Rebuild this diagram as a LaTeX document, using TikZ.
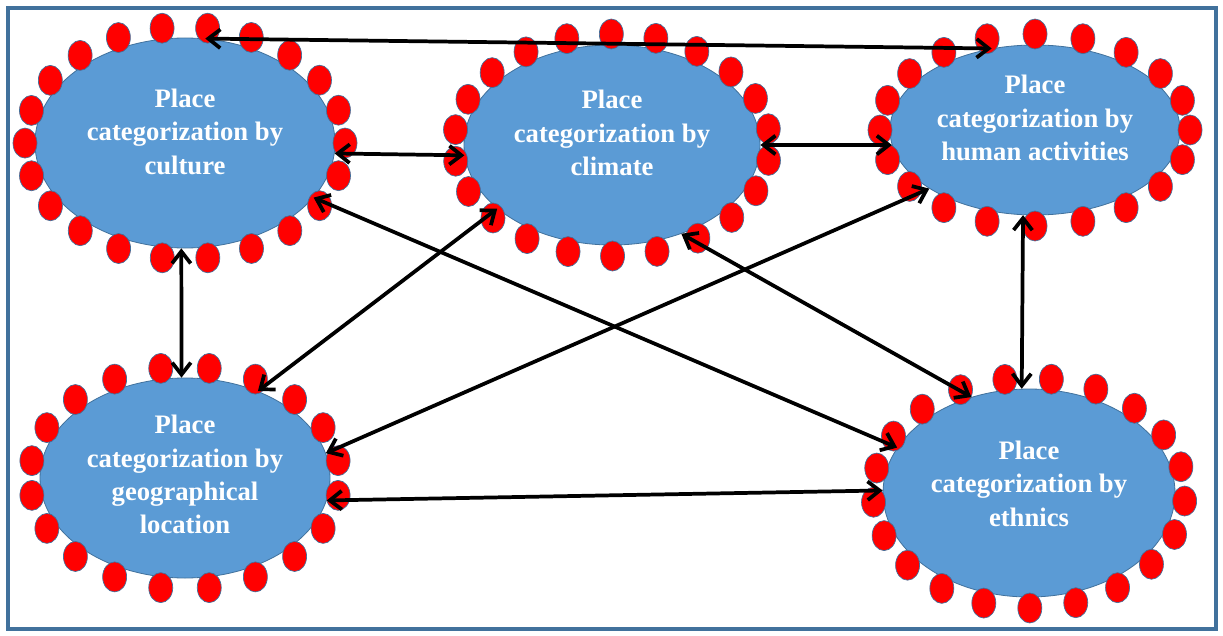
\documentclass[tikz,border=0pt]{standalone}
\usepackage{fontspec}
\setmainfont{Liberation Serif}
\usepackage{tikz}
\usetikzlibrary{shapes.geometric}
\usetikzlibrary{arrows.meta}

\definecolor{placeblue}{RGB}{91,155,213}
\definecolor{edgeblue}{RGB}{65,113,156}
\definecolor{dotred}{RGB}{255,0,0}

\begin{document}
\begin{tikzpicture}[x=0.75pt,y=0.75pt,yscale=-1,xscale=1,
  place/.style={ellipse,draw=edgeblue,line width=0.6pt,fill=placeblue,inner sep=0pt},
  ptext/.style={text=white,font=\fontsize{20}{25}\selectfont\bfseries,align=center},
  rdot/.style={ellipse,draw=edgeblue,line width=0.5pt,fill=dotred,minimum width=18pt,minimum height=22.5pt,inner sep=0pt},
  link/.style={>={Straight Barb[length=9pt,width=14pt]},<->,line width=2.8pt,black}]
\useasboundingbox (0,0) rectangle (1223,635);

%Shape: Frame
\draw [edgeblue, line width=3pt] (8,8) rectangle (1216,629);

% Place Nodes
\node [place, minimum width=225pt, minimum height=157.5pt, label={[ptext,yshift=8.5pt]center:Place\\categorization by\\culture}] (cult) at (185,143) {};
\node [place, minimum width=222pt, minimum height=150pt, label={[ptext,yshift=9pt]center:Place\\categorization by\\climate}] (clim) at (612,145) {};
\node [place, minimum width=217.5pt, minimum height=127.5pt, label={[ptext,yshift=9pt]center:Place\\categorization by\\human activities}] (human) at (1035,130) {};
\node [place, minimum width=217.5pt, minimum height=150pt, label={[ptext,yshift=2.5pt]center:Place\\categorization by\\geographical\\location}] (geo) at (185,478) {};
\node [place, minimum width=219pt, minimum height=156pt, label={[ptext,yshift=7pt]center:Place\\categorization by\\ethnics}] (eth) at (1029,493) {};

% Red dots round each place
\foreach \a in {0,16.36,...,359} \node [rdot] at ([shift={(\a:160 and 116)}]cult.center) {};
\foreach \a in {8,24.36,...,367} \node [rdot] at ([shift={(\a:158 and 111)}]clim.center) {};
\foreach \a in {0,18,...,359} \node [rdot] at ([shift={(\a:155 and 96)}]human.center) {};
\foreach \a in {9,27,...,368} \node [rdot] at ([shift={(\a:155 and 111)}]geo.center) {};
\foreach \a in {4,21.14,...,363} \node [rdot] at ([shift={(\a:156 and 115)}]eth.center) {};

% Links
\draw [link] (cult.79) -- (human.118.6);
\draw [link] (cult.-4.6) -- (clim.184);
\draw [link] (clim.0) -- (human.186);
\draw [link] (cult.-92.7) -- (geo.92.9);
\draw [link] (cult.-23.4) -- (eth.161.2);
\draw [link] (geo.50.5) -- (clim.-151.2);
\draw [link] (geo.10.7) -- (human.-151);
\draw [link] (geo.-9.5) -- (eth.179);
\draw [link] (clim.-52) -- (eth.121.2);
\draw [link] (human.-98.7) -- (eth.94);

\end{tikzpicture}
\end{document}
